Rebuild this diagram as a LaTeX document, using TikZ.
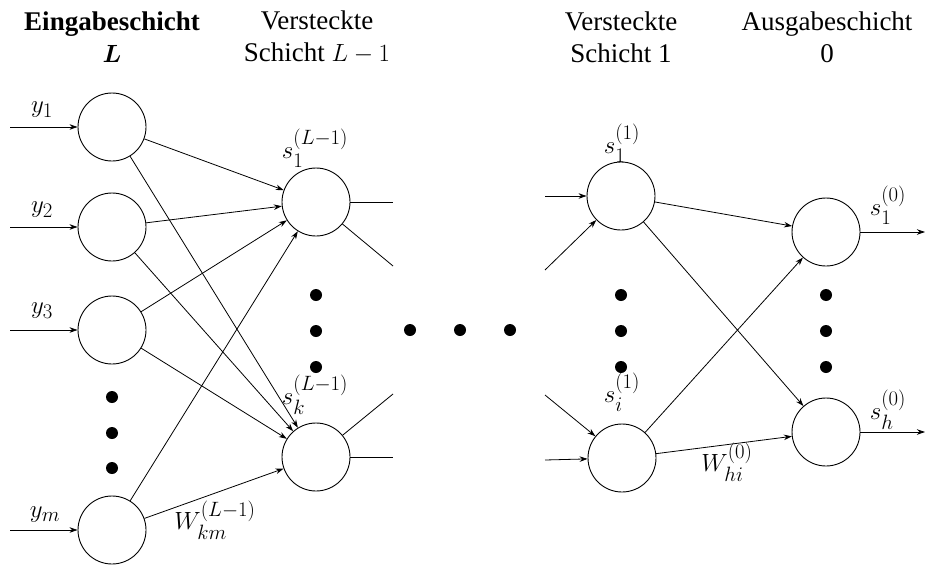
\documentclass[tikz,border=0pt]{standalone}
\usepackage{amsmath}
\usepackage{fontspec}
\setmainfont{Liberation Serif}
\usetikzlibrary{arrows.meta}
\newcommand{\hdrmath}[1]{{\fontsize{29}{30}\selectfont #1}}
\begin{document}
\begin{tikzpicture}[x=1pt,y=-1pt,
  neuron/.style={circle,draw,line width=0.9pt,minimum size=68pt,inner sep=0pt},
  bigdot/.style={circle,fill=black,minimum size=12pt,inner sep=0pt},
  conn/.style={line width=0.8pt,-{Stealth[length=8pt,width=5.5pt]}},
  plain/.style={line width=0.8pt},
  lbl/.style={font=\fontsize{28}{30}\selectfont,inner sep=0pt},
  hdr/.style={font=\fontsize{27}{32}\selectfont,align=center,inner sep=0pt}]
\useasboundingbox (0,0) rectangle (925,570);
% headers
\node[hdr] (hA) at (112,37) {\textbf{Eingabeschicht}\\ \hdrmath{$\boldsymbol{L}$}};
\node[hdr] (hB) at (317,37) {Versteckte\\ Schicht \hdrmath{$L-1$}};
\node[hdr] (hC) at (621,37) {Versteckte\\ Schicht 1};
\node[hdr] (hD) at (827,37) {Ausgabeschicht\\ 0};
% input layer
\node[neuron] (i1) at (112,127) {};
\node[neuron] (i2) at (112,227) {};
\node[neuron] (i3) at (112,330) {};
\node[neuron] (im) at (112,530) {};
\node[bigdot] (d1) at (112,397) {};
\node[bigdot] (d2) at (112,433) {};
\node[bigdot] (d3) at (112,468) {};
% hidden L-1
\node[neuron] (a1) at (316,202) {};
\node[neuron] (ak) at (316,457) {};
\node[bigdot] (d4) at (316,295) {};
\node[bigdot] (d5) at (316,331) {};
\node[bigdot] (d6) at (316,367) {};
% middle dots
\node[bigdot] (d7) at (410,330) {};
\node[bigdot] (d8) at (460,330) {};
\node[bigdot] (d9) at (510,330) {};
% hidden 1
\node[neuron] (b1) at (621,196) {};
\node[neuron] (bi) at (622,458) {};
\node[bigdot] (d10) at (621,295) {};
\node[bigdot] (d11) at (621,331) {};
\node[bigdot] (d12) at (621,367) {};
% output
\node[neuron] (o1) at (826,232) {};
\node[neuron] (oh) at (826,432) {};
\node[bigdot] (d13) at (826,295) {};
\node[bigdot] (d14) at (826,331) {};
\node[bigdot] (d15) at (826,367) {};
% coordinates
\coordinate (in1) at (10,127);
\coordinate (in2) at (10,227);
\coordinate (in3) at (10,330);
\coordinate (inm) at (10,530);
\coordinate (a1r) at (393,202);
\coordinate (a1d) at (393,266);
\coordinate (akr) at (393,457);
\coordinate (aku) at (393,394);
\coordinate (b1l) at (545,196);
\coordinate (b1d) at (545,270);
\coordinate (bil) at (545,460);
\coordinate (biu) at (545,395);
\coordinate (o1r) at (925,232);
\coordinate (ohr) at (925,432);
% input arrows
\draw[conn] (in1) -- (i1);
\draw[conn] (in2) -- (i2);
\draw[conn] (in3) -- (i3);
\draw[conn] (inm) -- (im);
% input to hidden L-1
\foreach \s in {i1,i2,i3,im}{
  \draw[conn] (\s) -- (a1);
  \draw[conn] (\s) -- (ak);
}
% outgoing stubs from L-1
\draw[plain] (a1) -- (a1r);
\draw[plain] (a1) -- (a1d);
\draw[plain] (ak) -- (akr);
\draw[plain] (ak) -- (aku);
% incoming stubs to hidden 1
\draw[conn] (b1l) -- (b1);
\draw[conn] (b1d) -- (b1);
\draw[conn] (bil) -- (bi);
\draw[conn] (biu) -- (bi);
% hidden 1 to output
\draw[conn] (b1) -- (o1);
\draw[conn] (b1) -- (oh);
\draw[conn] (bi) -- (o1);
\draw[conn] (bi) -- (oh);
% outputs
\draw[conn] (o1) -- (o1r);
\draw[conn] (oh) -- (ohr);
% labels
\node[lbl] (ly1) at (42,110) {$y_1$};
\node[lbl] (ly2) at (42,210) {$y_2$};
\node[lbl] (ly3) at (42,311) {$y_3$};
\node[lbl] (lym) at (45,515) {$y_m$};
\node[lbl] (ls1) at (315,148) {$s_1^{(L-1)}$};
\node[lbl] (lsk) at (315,395) {$s_k^{(L-1)}$};
\node[lbl] (lb1) at (622,143) {$s_1^{(1)}$};
\node[lbl] (lbi) at (622,392) {$s_i^{(1)}$};
\node[lbl] (lo1) at (888,205) {$s_1^{(0)}$};
\node[lbl] (loh) at (888,410) {$s_h^{(0)}$};
\node[lbl] (lW1) at (215,520) {$W_{km}^{(L-1)}$};
\node[lbl] (lW2) at (727,462) {$W_{hi}^{(0)}$};
\end{tikzpicture}
\end{document}
